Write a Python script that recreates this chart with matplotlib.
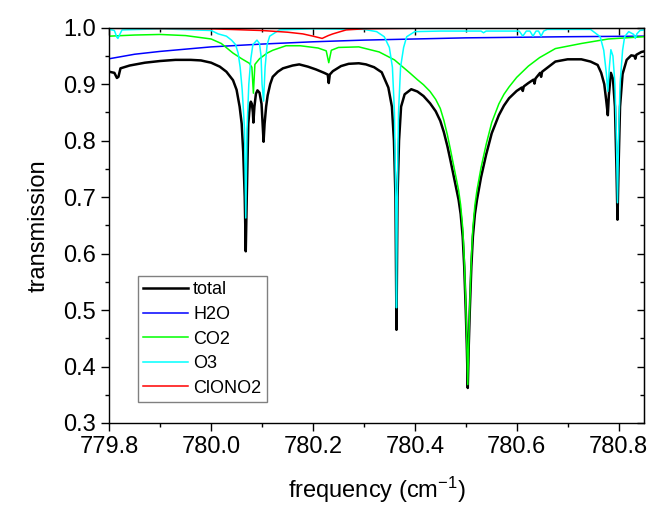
import matplotlib
matplotlib.use("Agg")
import matplotlib.pyplot as plt
from matplotlib.ticker import MultipleLocator, FormatStrFormatter

plt.rcParams['font.family'] = ['Liberation Sans', 'DejaVu Sans']
plt.rcParams['mathtext.default'] = 'regular'

# spectra (frequency in cm-1, transmission)
total_f = [779.800, 779.810, 779.815, 779.818, 779.822, 779.840, 779.870, 779.900,
           779.930, 779.960, 779.980, 780.000, 780.017, 780.030, 780.043, 780.050,
           780.056, 780.060, 780.063, 780.066, 780.068, 780.070, 780.073, 780.076,
           780.078, 780.080, 780.082, 780.083, 780.085, 780.088, 780.091, 780.095,
           780.099, 780.101, 780.103, 780.105, 780.108, 780.111, 780.116, 780.121,
           780.131, 780.141, 780.160, 780.173, 780.190, 780.206, 780.222, 780.229,
           780.231, 780.233, 780.239, 780.255, 780.270, 780.290, 780.304, 780.320,
           780.335, 780.348, 780.355, 780.359, 780.362, 780.364, 780.366, 780.369,
           780.373, 780.380, 780.393, 780.405, 780.417, 780.430, 780.441, 780.450,
           780.457, 780.464, 780.470, 780.478, 780.486, 780.490, 780.494, 780.497,
           780.500, 780.502, 780.504, 780.506, 780.508, 780.511, 780.514, 780.518,
           780.522, 780.530, 780.540, 780.551, 780.565, 780.575, 780.585, 780.600,
           780.610, 780.612, 780.614, 780.623, 780.633, 780.635, 780.637, 780.646,
           780.648, 780.650, 780.676, 780.700, 780.727, 780.745, 780.759, 780.766,
           780.772, 780.776, 780.779, 780.781, 780.785, 780.789, 780.793, 780.796,
           780.798, 780.800, 780.803, 780.808, 780.816, 780.825, 780.831, 780.833,
           780.835, 780.845, 780.850]
total_t = [0.922, 0.920, 0.911, 0.913, 0.928, 0.933, 0.938, 0.941,
           0.943, 0.943, 0.942, 0.938, 0.931, 0.922, 0.907, 0.890,
           0.860, 0.830, 0.780, 0.700, 0.604, 0.700, 0.830, 0.862,
           0.869, 0.865, 0.850, 0.832, 0.860, 0.883, 0.889, 0.885,
           0.865, 0.830, 0.798, 0.830, 0.860, 0.880, 0.900, 0.913,
           0.922, 0.928, 0.933, 0.935, 0.931, 0.926, 0.920, 0.917,
           0.902, 0.917, 0.923, 0.932, 0.936, 0.937, 0.935, 0.930,
           0.921, 0.894, 0.860, 0.800, 0.700, 0.465, 0.700, 0.800,
           0.860, 0.882, 0.891, 0.887, 0.879, 0.866, 0.852, 0.835,
           0.815, 0.790, 0.765, 0.730, 0.695, 0.670, 0.630, 0.577,
           0.500, 0.440, 0.362, 0.440, 0.500, 0.577, 0.630, 0.670,
           0.695, 0.735, 0.775, 0.813, 0.845, 0.862, 0.875, 0.888,
           0.894, 0.888, 0.896, 0.902, 0.908, 0.901, 0.910, 0.920,
           0.913, 0.922, 0.940, 0.944, 0.944, 0.940, 0.934, 0.920,
           0.900, 0.870, 0.845, 0.880, 0.920, 0.910, 0.860, 0.750,
           0.660, 0.750, 0.860, 0.918, 0.943, 0.951, 0.950, 0.945,
           0.952, 0.957, 0.958]

h2o_f = [779.80, 779.85, 779.90, 780.00, 780.10, 780.20, 780.30, 780.40,
         780.50, 780.60, 780.70, 780.85]
h2o_t = [0.945, 0.953, 0.958, 0.966, 0.971, 0.975, 0.978, 0.980,
         0.982, 0.983, 0.984, 0.985]

co2_f = [779.800, 779.850, 779.900, 779.950, 780.000, 780.020, 780.043, 780.060,
         780.075, 780.080, 780.083, 780.086, 780.095, 780.110, 780.121, 780.147,
         780.175, 780.210, 780.226, 780.231, 780.236, 780.250, 780.290, 780.330,
         780.360, 780.390, 780.405, 780.417, 780.430, 780.441, 780.450, 780.457,
         780.464, 780.470, 780.478, 780.486, 780.490, 780.494, 780.497, 780.500,
         780.502, 780.504, 780.506, 780.508, 780.511, 780.514, 780.518, 780.522,
         780.530, 780.540, 780.551, 780.565, 780.575, 780.585, 780.600, 780.623,
         780.645, 780.676, 780.727, 780.780, 780.850]
co2_t = [0.985, 0.987, 0.988, 0.986, 0.980, 0.972, 0.955, 0.945,
         0.937, 0.930, 0.884, 0.935, 0.945, 0.955, 0.960, 0.968,
         0.968, 0.964, 0.959, 0.938, 0.960, 0.965, 0.966, 0.957,
         0.943, 0.920, 0.908, 0.899, 0.887, 0.873, 0.857, 0.836,
         0.810, 0.784, 0.748, 0.712, 0.686, 0.646, 0.592, 0.512,
         0.450, 0.368, 0.450, 0.512, 0.592, 0.646, 0.686, 0.712,
         0.752, 0.793, 0.832, 0.865, 0.882, 0.895, 0.912, 0.932,
         0.947, 0.963, 0.972, 0.980, 0.984]

o3_f = [779.800, 779.810, 779.815, 779.817, 779.819, 779.825, 779.900, 780.000,
        780.014, 780.030, 780.040, 780.048, 780.053, 780.057, 780.061, 780.0656,
        780.068, 780.0705, 780.074, 780.078, 780.082, 780.090, 780.095, 780.098,
        780.100, 780.103, 780.106, 780.110, 780.115, 780.134, 780.200, 780.300,
        780.325, 780.340, 780.350, 780.356, 780.360, 780.3625, 780.364, 780.3655,
        780.368, 780.372, 780.378, 780.384, 780.400, 780.450, 780.530, 780.535,
        780.540, 780.605, 780.612, 780.619, 780.626, 780.632, 780.638, 780.643,
        780.648, 780.653, 780.660, 780.745, 780.764, 780.771, 780.776, 780.779,
        780.782, 780.785, 780.789, 780.793, 780.796, 780.798, 780.800, 780.803,
        780.808, 780.812, 780.820, 780.830, 780.833, 780.836, 780.842, 780.850]
o3_t = [0.997, 0.995, 0.983, 0.981, 0.985, 0.996, 0.998, 0.995,
        0.989, 0.985, 0.978, 0.970, 0.955, 0.930, 0.890, 0.820,
        0.663, 0.820, 0.900, 0.945, 0.970, 0.978, 0.972, 0.950,
        0.900, 0.870, 0.930, 0.970, 0.985, 0.996, 0.998, 0.997,
        0.993, 0.984, 0.965, 0.930, 0.850, 0.700, 0.504, 0.700,
        0.850, 0.930, 0.965, 0.984, 0.993, 0.994, 0.994, 0.991,
        0.994, 0.994, 0.985, 0.994, 0.994, 0.985, 0.994, 0.994,
        0.985, 0.994, 0.997, 0.997, 0.984, 0.960, 0.920, 0.887,
        0.930, 0.961, 0.950, 0.900, 0.800, 0.690, 0.800, 0.900,
        0.960, 0.984, 0.993, 0.988, 0.981, 0.989, 0.995, 0.996]

clono2_f = [779.80, 780.00, 780.10, 780.15, 780.18, 780.20, 780.218, 780.230,
            780.239, 780.265, 780.30, 780.40, 780.85]
clono2_t = [0.999, 0.998, 0.995, 0.992, 0.989, 0.985, 0.981, 0.986,
            0.989, 0.996, 0.998, 0.999, 0.999]

series = [
    ("total", total_f, total_t, "black", 1.8),
    ("H2O", h2o_f, h2o_t, "#0000ff", 1.1),
    ("CO2", co2_f, co2_t, "#00ff00", 1.1),
    ("O3", o3_f, o3_t, "#00ffff", 1.1),
    ("ClONO2", clono2_f, clono2_t, "#ff0000", 1.1),
]

fig = plt.figure(figsize=(6.52, 5.07), dpi=100)
ax = fig.add_axes([0.1676, 0.1657, 0.8201, 0.7797])

for name, f, t, col, lw in series:
    ax.plot(f, t, color=col, lw=lw, label=name)

ax.set_xlim(779.8, 780.85)
ax.set_ylim(0.3, 1.0)
ax.xaxis.set_major_locator(MultipleLocator(0.2))
ax.xaxis.set_minor_locator(MultipleLocator(0.1))
ax.yaxis.set_major_locator(MultipleLocator(0.1))
ax.yaxis.set_minor_locator(MultipleLocator(0.05))
ax.xaxis.set_major_formatter(FormatStrFormatter("%.1f"))
ax.yaxis.set_major_formatter(FormatStrFormatter("%.1f"))
ax.tick_params(which="both", direction="out", width=1.0, labelsize=17)
ax.tick_params(which="major", length=6)
ax.tick_params(which="minor", length=3)
for sp in ax.spines.values():
    sp.set_linewidth(1.0)

# mirror ticks on top and right, pointing inward
top = ax.secondary_xaxis("top")
top.xaxis.set_major_locator(MultipleLocator(0.2))
top.xaxis.set_minor_locator(MultipleLocator(0.1))
top.tick_params(which="both", direction="in", labeltop=False, width=1.0)
top.tick_params(which="major", length=5)
top.tick_params(which="minor", length=3)
right = ax.secondary_yaxis("right")
right.yaxis.set_major_locator(MultipleLocator(0.1))
right.yaxis.set_minor_locator(MultipleLocator(0.05))
right.tick_params(which="both", direction="in", labelright=False, width=1.0)
right.tick_params(which="major", length=5)
right.tick_params(which="minor", length=3)

ax.set_xlabel("frequency (cm$^{-1}$)", fontsize=17, labelpad=12)
ax.set_ylabel("transmission", fontsize=17, labelpad=10)

leg = ax.legend(loc="upper left", bbox_to_anchor=(0.2117, 0.4556),
                bbox_transform=fig.transFigure, borderaxespad=0,
                fontsize=13, fancybox=False, framealpha=1,
                edgecolor="#808080", handlelength=2.45, handletextpad=0.3,
                labelspacing=0.42, borderpad=0.3)
leg.get_frame().set_linewidth(1.0)

fig.savefig("out.png", dpi=100)
